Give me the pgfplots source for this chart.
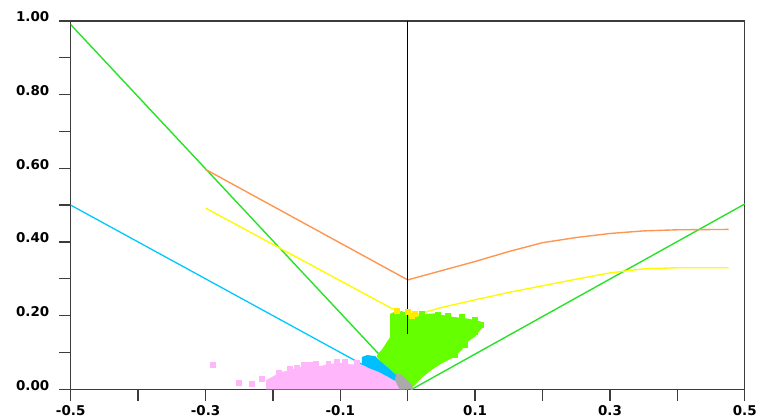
\documentclass[border=0pt]{standalone}
\usepackage{pgfplots}
\pgfplotsset{compat=1.18}
\usepackage{fontspec}
\setmainfont{DejaVu Sans}

\definecolor{axgray}{RGB}{60,60,60}
\definecolor{lnorange}{RGB}{255,150,80}
\definecolor{lnyellow}{RGB}{255,250,0}
\definecolor{lngreen}{RGB}{40,225,40}
\definecolor{lnblue}{RGB}{0,200,255}
\definecolor{ptgreen}{RGB}{102,255,0}
\definecolor{ptblue}{RGB}{0,191,255}
\definecolor{ptpink}{RGB}{255,182,250}
\definecolor{ptgray}{RGB}{170,170,170}
\definecolor{ptyellow}{RGB}{255,235,0}

\begin{document}
\begin{tikzpicture}
% page size, same proportions as the reference
\path (0,0) rectangle (760pt,421pt);
\begin{axis}[
    at={(71pt,30pt)}, anchor=south west,
    scale only axis, width=677pt, height=370pt,
    xmin=-0.5, xmax=0.5, ymin=0, ymax=1,
    axis line style={axgray, line width=1.4pt},
    xtick={-0.5,-0.3,-0.1,0.1,0.3,0.5},
    xticklabels={-0.5,-0.3,-0.1,0.1,0.3,0.5},
    minor xtick={-0.4,-0.2,0,0.2,0.4},
    ytick={0,0.2,0.4,0.6,0.8,1.0},
    yticklabels={0.00,0.20,0.40,0.60,0.80,1.00},
    minor ytick={0.1,0.3,0.5,0.7,0.9},
    tick pos=left, tick align=outside,
    major tick length=12pt, minor tick length=12pt,
    every tick/.style={axgray, line width=1.4pt},
    ticklabel style={font=\bfseries\fontsize{13.5}{13.5}\selectfont},
    yticklabel style={xshift=-6pt, yshift=4pt},
    xticklabel style={yshift=-1pt},
]
% reference lines
\addplot[black, line width=1.3pt] coordinates {(0,0) (0,1)};
\addplot[lngreen, line width=1.4pt] coordinates {(-0.5,0.99) (0.006,0.0) (0.5,0.503)};
\addplot[lnblue, line width=1.3pt] coordinates {(-0.5,0.5) (0,0)};
\addplot[lnorange, line width=1.4pt] coordinates {
  (-0.3,0.597) (0,0.297) (0.05,0.322) (0.1,0.347) (0.15,0.374) (0.2,0.398)
  (0.25,0.412) (0.3,0.423) (0.35,0.430) (0.4,0.433) (0.476,0.434)};
\addplot[lnyellow, line width=1.4pt] coordinates {
  (-0.3,0.492) (0,0.196) (0.05,0.222) (0.1,0.243) (0.15,0.263) (0.2,0.281)
  (0.25,0.299) (0.3,0.316) (0.35,0.327) (0.4,0.330) (0.476,0.330)};

% pink cluster
\addplot[draw=none, fill=ptpink] coordinates {
  (-0.21,0.0) (-0.21,0.025) (-0.2,0.035) (-0.19,0.046) (-0.175,0.052)
  (-0.16,0.06) (-0.145,0.064) (-0.13,0.063) (-0.115,0.069) (-0.1,0.072)
  (-0.085,0.068) (-0.07,0.067) (-0.058,0.062) (-0.044,0.05) (-0.030,0.037)
  (-0.021,0.027) (-0.004,0.004) (-0.004,0.0)};
\addplot[only marks, mark=square*, mark size=2.5pt, ptpink] coordinates {
  (-0.29,0.066) (-0.251,0.018) (-0.231,0.014) (-0.216,0.03) (-0.191,0.046)
  (-0.2,0.02) (-0.155,0.066) (-0.136,0.07) (-0.118,0.07) (-0.105,0.074)
  (-0.093,0.074) (-0.075,0.071) (-0.175,0.056) (-0.145,0.066) (-0.165,0.06)};

% green cluster
\addplot[draw=none, fill=ptgreen] coordinates {
  (-0.026,0.205) (-0.02,0.21) (-0.009,0.212) (0.005,0.205) (0.016,0.20) (0.030,0.205)
  (0.040,0.206) (0.065,0.197) (0.089,0.192) (0.109,0.184) (0.110,0.165)
  (0.099,0.142) (0.089,0.129) (0.080,0.106) (0.065,0.084) (0.050,0.07)
  (0.035,0.052) (0.020,0.03) (0.011,0.012) (0.004,0.0) (-0.012,0.02)
  (-0.019,0.042) (-0.030,0.06) (-0.041,0.077) (-0.046,0.09) (-0.044,0.097)
  (-0.039,0.106) (-0.026,0.142)};
\addplot[only marks, mark=square*, mark size=2.5pt, ptgreen] coordinates {
  (0.02,0.206) (0.045,0.203) (0.06,0.2) (0.08,0.196) (0.1,0.19)
  (0.108,0.175) (0.1,0.155) (0.085,0.12) (0.07,0.095)};

% blue cluster
\addplot[draw=none, fill=ptblue] coordinates {
  (-0.068,0.088) (-0.06,0.093) (-0.048,0.09) (-0.041,0.077) (-0.030,0.06)
  (-0.019,0.042) (-0.010,0.030) (-0.014,0.022) (-0.021,0.025) (-0.030,0.035)
  (-0.044,0.048) (-0.058,0.058) (-0.068,0.068)};

% gray cluster
\addplot[draw=none, fill=ptgray] coordinates {
  (-0.019,0.025) (-0.017,0.043) (-0.009,0.039) (0.0,0.025) (0.006,0.012)
  (0.008,0.0) (-0.012,0.0)};

% yellow points
\addplot[only marks, mark=square*, mark size=2.5pt, ptyellow] coordinates {
  (-0.016,0.214) (0.0,0.21) (0.01,0.206) (0.006,0.2)};

\addplot[black, line width=1.3pt] coordinates {(0,0.15) (0,1)};
\end{axis}
\end{tikzpicture}
\end{document}
